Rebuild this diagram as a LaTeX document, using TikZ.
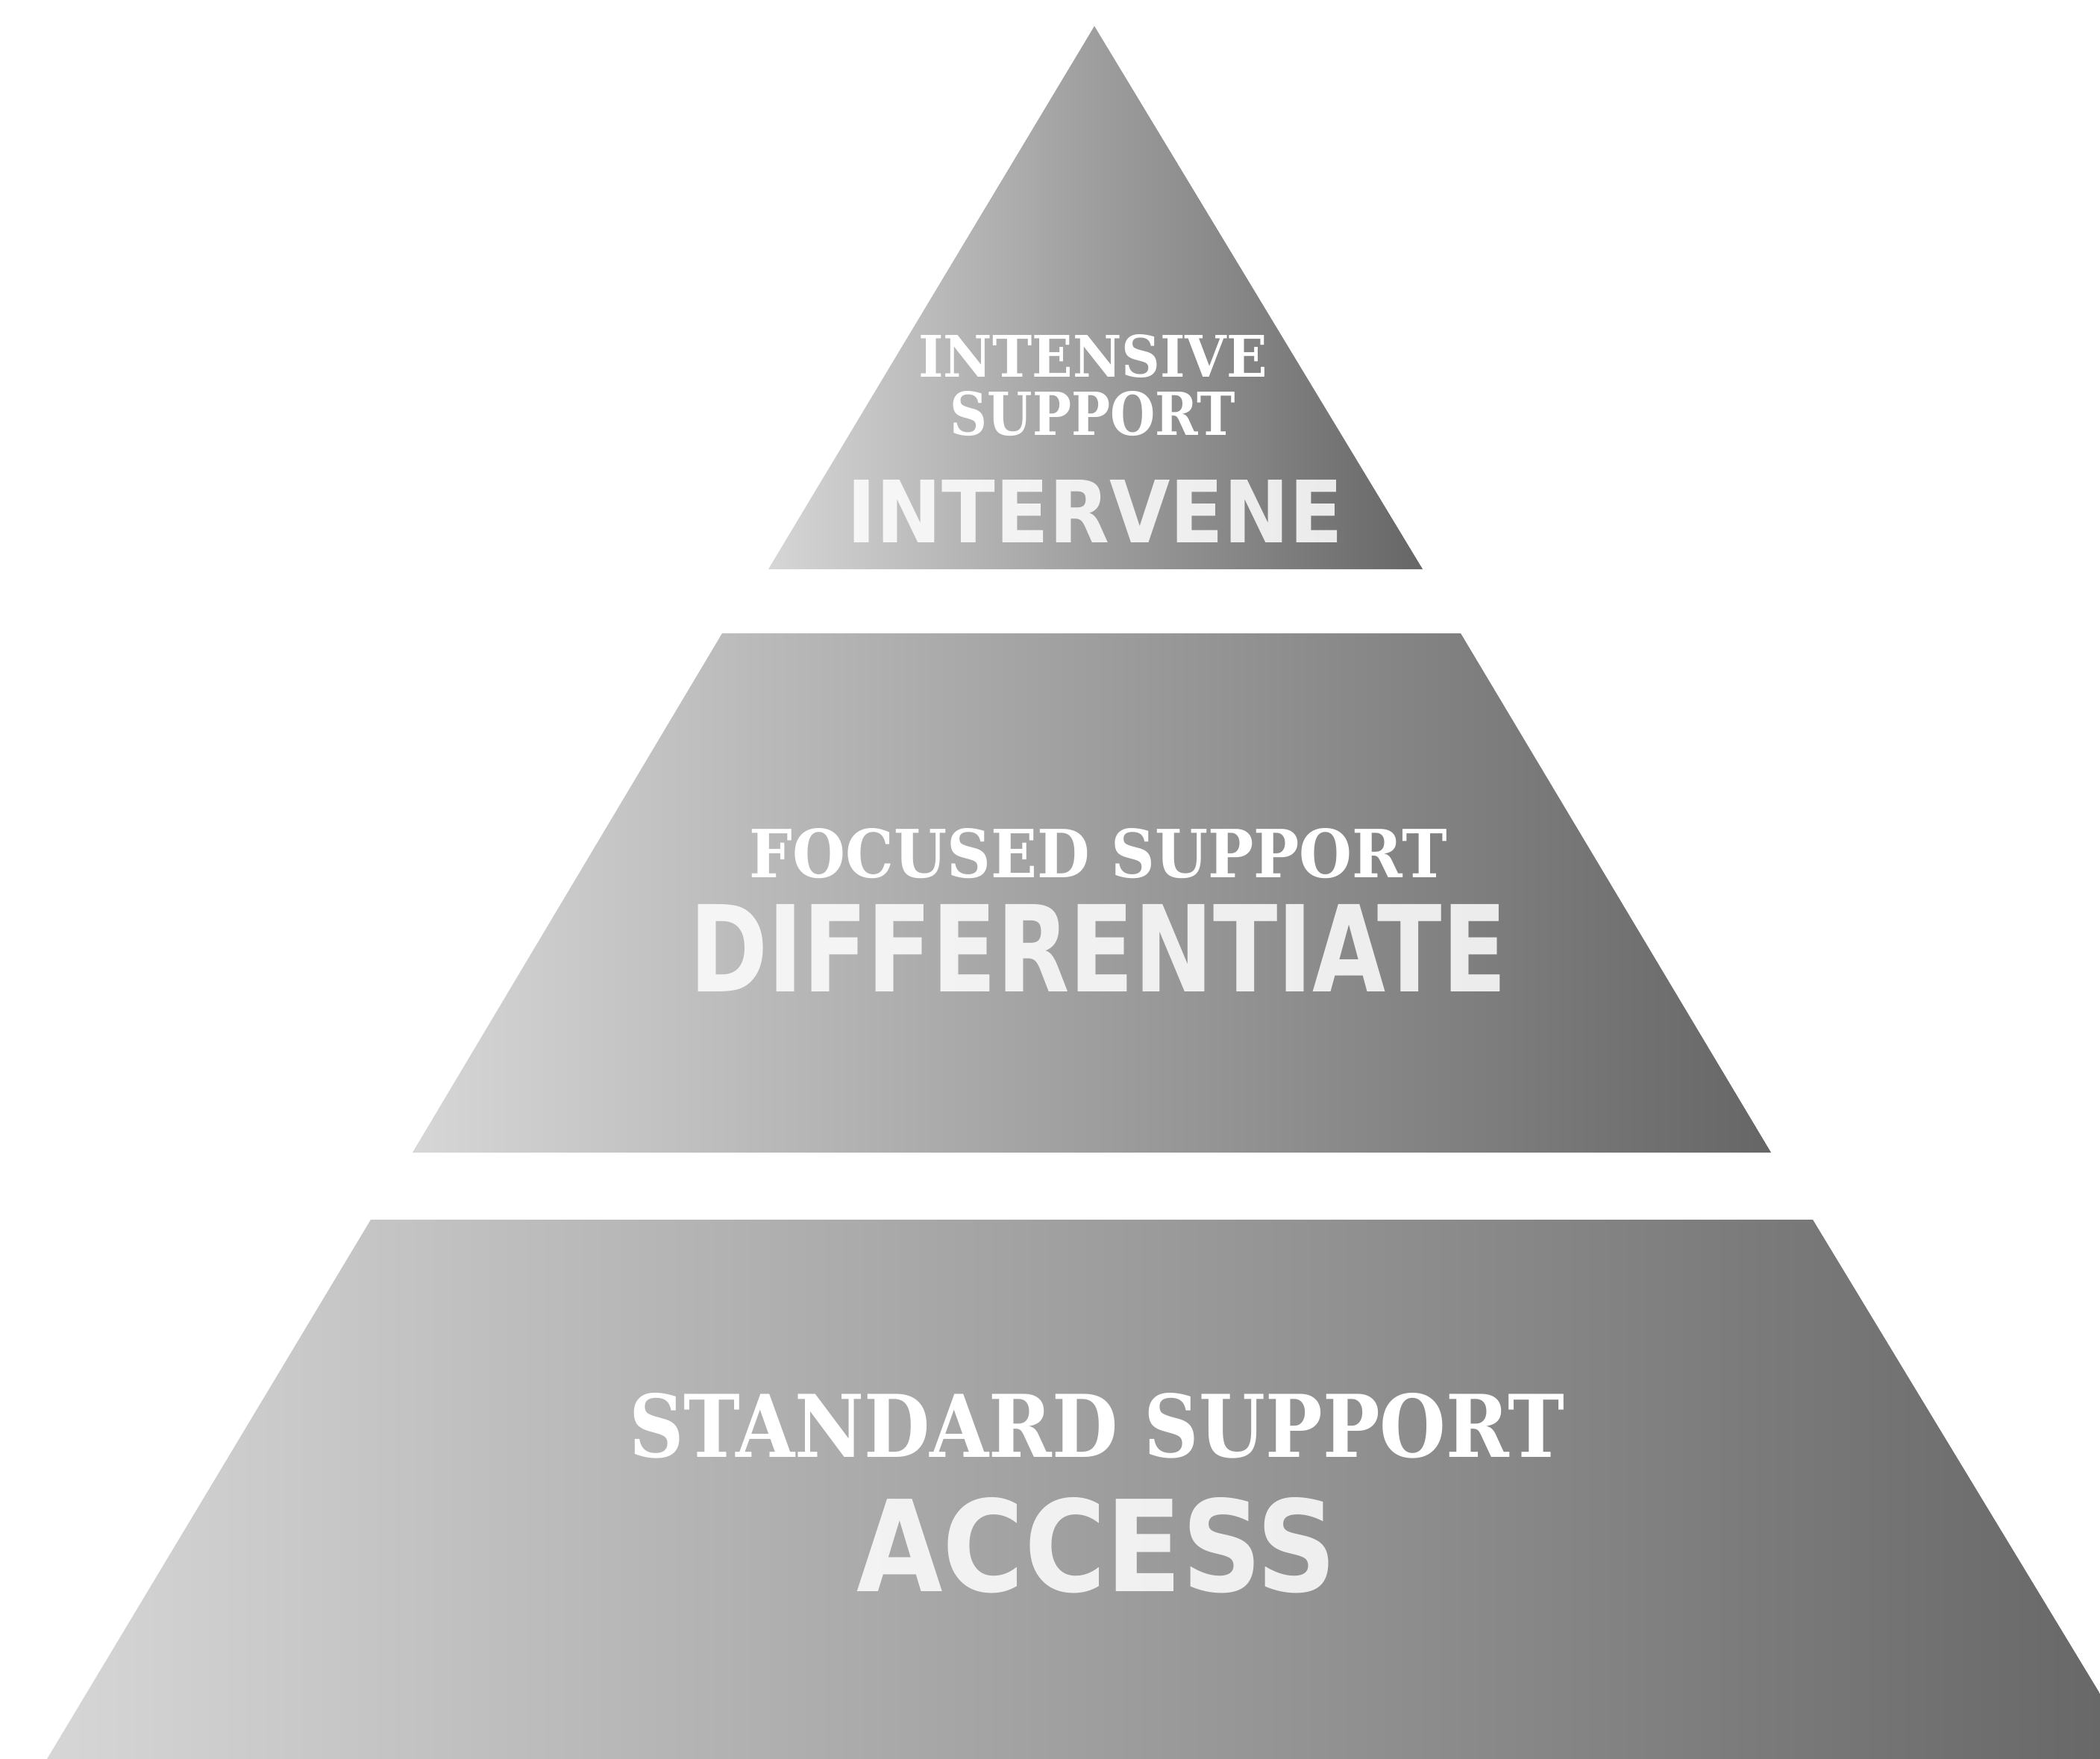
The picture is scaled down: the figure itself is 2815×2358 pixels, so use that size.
\documentclass[tikz,border=0pt]{standalone}
\usepackage{fontspec}
\usepackage{graphicx}
\newfontfamily\slabfont{DejaVu Serif Condensed}[BoldFont={DejaVu Serif Condensed Bold}]
\newfontfamily\condfont{DejaVu Sans Condensed}[BoldFont={DejaVu Sans Condensed Bold}]
\tikzset{
  tiershade/.style={left color=black!16, middle color=black!50, right color=black!60, draw=none},
  lbl/.style={inner sep=0pt, anchor=base, text=white},
  sublbl/.style={lbl, text opacity=0.86}
}
\begin{document}
\begin{tikzpicture}[x=0.01cm, y=-0.01cm]
\useasboundingbox (0,0) rectangle (2815,2358);
\fill[white] (0,0) rectangle (2815,2358);
% top tier
\shade[tiershade] (1467,35) -- (1907,763) -- (1030,763) -- cycle;
% middle tier
\shade[tiershade] (968,849) -- (1958,849) -- (2374,1545) -- (553,1545) -- cycle;
% bottom tier
\begin{scope}
\clip (0,0) rectangle (2815,2358);
\shade[tiershade] (497,1635) -- (2430,1635) -- (2868,2358) -- (63,2358) -- cycle;
\end{scope}
% labels
\node[lbl] (t1) at (1465,506) {\resizebox{4.67cm}{0.57cm}{\slabfont\bfseries INTENSIVE}};
\node[lbl] (t2) at (1465,583) {\resizebox{3.82cm}{0.59cm}{\slabfont\bfseries SUPPORT}};
\node[sublbl] (t3) at (1468,727) {\resizebox{6.64cm}{0.84cm}{\condfont\bfseries INTERVENE}};
\node[lbl] (m1) at (1472,1176) {\resizebox{9.34cm}{0.66cm}{\slabfont\bfseries FOCUSED SUPPORT}};
\node[sublbl] (m2) at (1472,1329) {\resizebox{10.95cm}{1.17cm}{\condfont\bfseries DIFFERENTIATE}};
\node[lbl] (b1) at (1470,1953) {\resizebox{12.53cm}{0.86cm}{\slabfont\bfseries STANDARD SUPPORT}};
\node[sublbl] (b2) at (1470,2133) {\resizebox{6.43cm}{1.26cm}{\condfont\bfseries ACCESS}};
\end{tikzpicture}
\end{document}
